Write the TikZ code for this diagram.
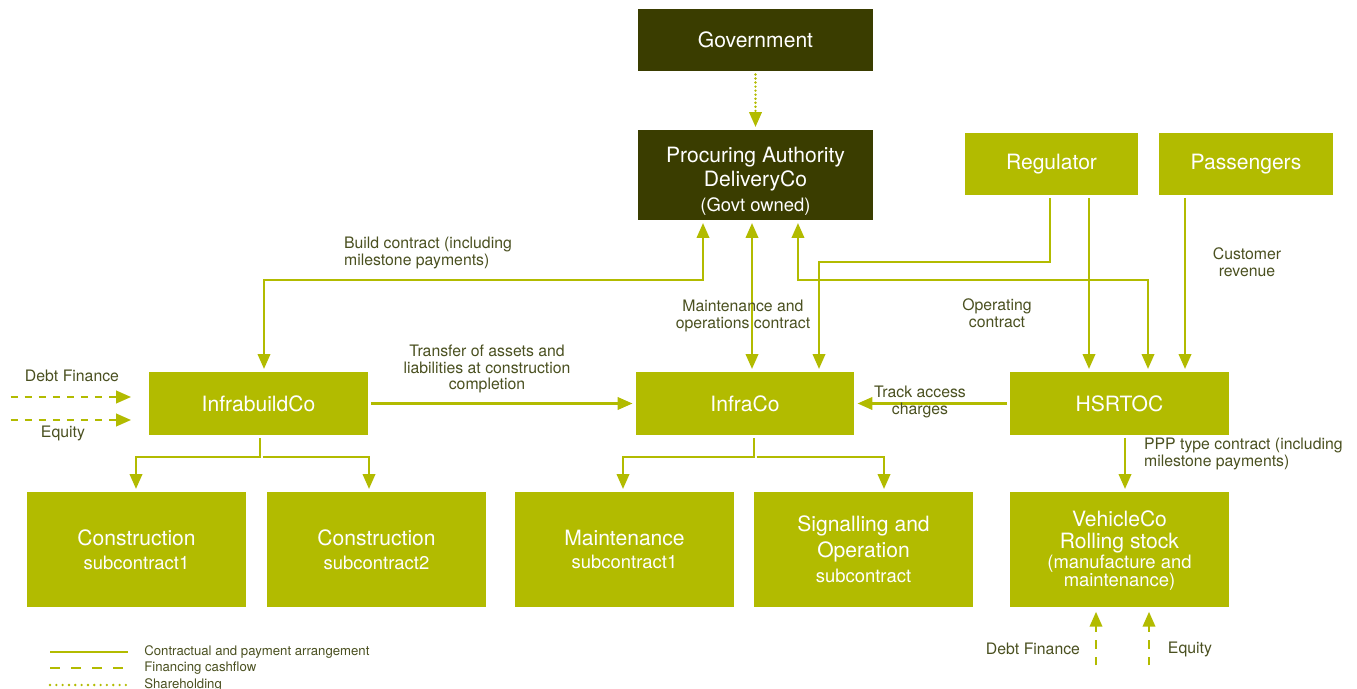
\documentclass[tikz,border=0pt]{standalone}
\usepackage{fontspec}
\setmainfont{TeX Gyre Heros}
\usetikzlibrary{arrows.meta}

\definecolor{pppgreen}{HTML}{B2BB00}
\definecolor{pppdark}{HTML}{3A3D00}
\definecolor{pppnote}{HTML}{4A5020}

\newcommand{\subline}[1]{{\fontsize{10.5}{12}\selectfont #1}}

\begin{document}
\begin{tikzpicture}[x=0.02cm, y=-0.02cm,
    >={Triangle[width=7pt,length=8.5pt]},
    box/.style={fill=pppgreen, text=white, minimum width=4.38cm, minimum height=1.26cm,
                align=center, inner sep=0pt, font=\fontsize{12}{13.5}\selectfont},
    subbox/.style={box, minimum height=2.3cm},
    darkbox/.style={box, fill=pppdark, minimum width=4.7cm},
    con/.style={draw=pppgreen, line width=1.5pt, shorten >=1.5pt, shorten <=1.5pt},
    fin/.style={con, dash pattern=on 4pt off 4pt},
    share/.style={con, line cap=round, dash pattern=on 0pt off 2.3pt},
    note/.style={text=pppnote, align=center, inner sep=1pt, font=\fontsize{9}{9.6}\selectfont},
    key/.style={text=pppnote, anchor=west, inner sep=0pt, font=\fontsize{7.5}{8}\selectfont}]

    \useasboundingbox (0,0) rectangle (1357,689);

    % top level
    \node[darkbox] (gov) at (755.5,40) {Government};
    \node[darkbox, minimum height=1.8cm] (proc) at (755.5,175)
        {\rule{0pt}{15.5pt}Procuring Authority\\[0.3pt]DeliveryCo\\[0.6pt]\subline{(Govt owned)}};
    \node[box, minimum width=3.46cm, minimum height=1.24cm] (reg) at (1051.5,164) {Regulator};
    \node[box, minimum width=3.48cm, minimum height=1.24cm] (pass) at (1246,164) {Passengers};

    % companies
    \node[box] (infrabuild) at (258.5,403.5) {InfrabuildCo};
    \node[box] (infraco) at (745,403.5) {InfraCo};
    \node[box] (hsrtoc) at (1119.5,403.5) {HSRTOC};

    % subcontractors
    \node[subbox] (cs1) at (136.5,549.5) {Construction\\\subline{subcontract1}};
    \node[subbox] (cs2) at (376.5,549.5) {Construction\\\subline{subcontract2}};
    \node[subbox] (mnt) at (624.5,549.5) {Maintenance\\\subline{subcontract1}};
    \node[subbox] (sig) at (863.5,549.5) {Signalling and\\[1.2pt]Operation\\[1pt]\subline{subcontract}};
    \node[subbox] (veh) at (1119.5,549.5)
        {\rule{0pt}{10pt}VehicleCo\\[-1pt]Rolling stock\\[-2.2pt]\subline{(manufacture and}\\[-3.3pt]\subline{maintenance)}};

    % bend points
    \coordinate (bc) at (264,280);
    \coordinate (mo) at (752,300);
    \coordinate (oc) at (1148,280);
    \coordinate (rg1) at (1050,262);
    \coordinate (rg) at (819,262);
    \coordinate (rg2) at (1089,300);
    \coordinate (pa) at (1185,300);
    \coordinate (vc) at (1125,460);
    \coordinate (ta) at (136,457);
    \coordinate (tb) at (369,457);
    \coordinate (tm) at (260,457);
    \coordinate (tc) at (623,457);
    \coordinate (td) at (884,457);
    \coordinate (te) at (754,457);

    \draw[share,->] (gov) -- (proc);
    \draw[con,<->] ([xshift=-1.05cm]proc.south) |- (bc) -- (infrabuild.north -| bc);
    \draw[con,<->] (proc.south -| mo) -- (infraco.north -| mo);
    \draw[con,<->] ([xshift=0.85cm]proc.south) |- (oc) -- (hsrtoc.north -| oc);
    \draw[con,->] (reg.south -| rg1) -- (rg1) -- (rg) -- (infraco.north -| rg);
    \draw[con,->] (reg.south -| rg2) -- (hsrtoc.north -| rg2);
    \draw[con,->] (pass.south -| pa) -- (hsrtoc.north -| pa);

    \draw[con,->] (infrabuild.east) -- (infraco.west);
    \draw[con,->] (hsrtoc.west) -- (infraco.east);
    \draw[con,->] (hsrtoc.south -| vc) -- (veh.north -| vc);

    \draw[con,->] (infrabuild.south -| tm) -- (tm) -- (ta) -- (cs1.north -| ta);
    \draw[con,->] (tm) -- (tb) -- (cs2.north -| tb);
    \draw[con,->] (infraco.south -| te) -- (te) -- (tc) -- (mnt.north -| tc);
    \draw[con,->] (te) -- (td) -- (sig.north -| td);

    % financing
    \coordinate (df) at (8,397);
    \coordinate (eq) at (8,420);
    \draw[fin,->,shorten >=10pt] (df) -- (infrabuild.west |- df);
    \draw[fin,->,shorten >=10pt] (eq) -- (infrabuild.west |- eq);
    \coordinate (vd) at (1096,668);
    \coordinate (ve) at (1149,668);
    \draw[fin,->,dash pattern=on 5pt off 4.5pt,shorten >=2.5pt] (vd) -- (veh.south -| vd);
    \draw[fin,->,dash pattern=on 5pt off 4.5pt,shorten >=2.5pt] (ve) -- (veh.south -| ve);

    % labels
    \node[note, align=left, anchor=west] (lbc) at (342,253) {Build contract (including\\milestone payments)};
    \node[note] (lmo) at (743,316) {Maintenance and\\operations contract};
    \node[note] (loc) at (997,313) {Operating\\contract};
    \node[note] (lcr) at (1247,262) {Customer\\revenue};
    \node[note] (ltr) at (487,369) {Transfer of assets and\\liabilities at construction\\completion};
    \node[note] (lta) at (920,402) {Track access\\charges};
    \node[note, align=left, anchor=west] (lppp) at (1142,454) {PPP type contract (including\\milestone payments)};
    \node[note] (ldf) at (72,376) {Debt Finance};
    \node[note] (leq) at (63,433) {Equity};
    \node[note] (lvd) at (1033,649) {Debt Finance};
    \node[note] (lve) at (1190,649) {Equity};

    % key
    \coordinate (k1a) at (50,652);
    \coordinate (k1b) at (128,652);
    \coordinate (k2a) at (50,668);
    \coordinate (k2b) at (128,668);
    \coordinate (k3a) at (50,685);
    \coordinate (k3b) at (128,685);
    \draw[con, shorten <=0pt, shorten >=0pt] (k1a) -- (k1b);
    \draw[fin, shorten <=0pt, shorten >=0pt, dash pattern=on 5.5pt off 6.5pt] (k2a) -- (k2b);
    \draw[share, shorten <=0pt, shorten >=0pt, dash pattern=on 0pt off 3.6pt] (k3a) -- (k3b);
    \node[key] (key1) at (144,652) {Contractual and payment arrangement};
    \node[key] (key2) at (144,668) {Financing cashflow};
    \node[key] (key3) at (144,685) {Shareholding};
\end{tikzpicture}
\end{document}
